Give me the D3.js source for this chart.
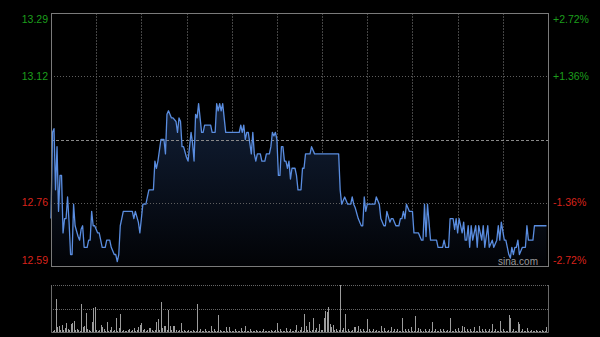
<!DOCTYPE html>
<html>
<head>
<meta charset="utf-8">
<script src="https://cdn.jsdelivr.net/npm/d3@7/dist/d3.min.js"></script>
<style>
  html, body { margin: 0; padding: 0; background: #000; }
  svg { display: block; }
  text { font-family: "Liberation Sans", Arial, sans-serif; }
</style>
</head>
<body>
<div id="chart"></div>
<script>
// intraday trade, minute index from the open (330 minutes, HK session)
const prevClose = 12.94;
const priceLabels = ["13.29", "13.12", "", "12.76", "12.59"];
const pctLabels = ["+2.72%", "+1.36%", "", "-1.36%", "-2.72%"];
const pctTicks = [2.72, 1.36, 0, -1.36, -2.72];

const minutes = [0,1,2,3,4,5,6,7,8,9,10,11,12,13,14,15,16,18,19,20,21,22,24,25,26,27,28,29,31,32,34,36,37,38,39,40,42,43,44,45,46,48,54,55,56,58,59,61,63,65,68,69,70,71,73,75,76,77,78,80,81,83,84,85,86,87,88,90,91,93,94,95,96,97,98,100,101,102,106,107,109,110,111,112,113,114,116,125,126,127,128,129,130,131,132,133,134,135,136,137,139,140,142,143,145,146,147,148,149,150,151,152,153,154,155,156,157,158,159,160,161,162,163,164,166,167,168,169,172,173,175,191,192,193,195,197,199,200,201,202,204,206,207,208,209,210,215,216,218,219,221,222,223,225,226,227,229,231,232,233,234,235,236,238,240,241,244,246,247,248,249,250,252,256,257,260,261,262,264,265,267,268,269,270,271,273,274,275,276,277,278,279,280,282,283,284,286,287,288,290,291,293,294,296,297,298,299,301,302,304,305,306,307,308,309,310,311,313,315,316,317,320,321,329];
const prices = [12.72,12.96,12.97,12.80,12.92,12.74,12.84,12.84,12.68,12.72,12.72,12.78,12.71,12.62,12.62,12.76,12.70,12.67,12.66,12.69,12.70,12.64,12.64,12.66,12.66,12.74,12.70,12.70,12.68,12.68,12.64,12.64,12.66,12.66,12.66,12.64,12.62,12.62,12.60,12.62,12.70,12.74,12.74,12.72,12.74,12.71,12.68,12.76,12.76,12.80,12.80,12.88,12.86,12.88,12.94,12.94,12.90,13.01,13.02,13.00,13.00,12.99,12.96,13.00,12.99,12.92,12.92,12.89,12.88,12.96,12.93,12.88,13.01,13.00,13.04,12.96,12.96,12.98,12.98,12.96,12.96,13.04,13.02,13.04,13.02,13.04,12.96,12.96,12.98,12.96,12.98,12.94,12.96,12.96,12.93,12.90,12.96,12.90,12.88,12.90,12.90,12.88,12.88,12.90,12.90,12.92,12.96,12.95,12.96,12.94,12.84,12.84,12.92,12.92,12.88,12.88,12.86,12.88,12.83,12.86,12.86,12.86,12.84,12.80,12.80,12.86,12.86,12.90,12.90,12.92,12.90,12.90,12.80,12.76,12.78,12.76,12.76,12.78,12.76,12.75,12.72,12.70,12.70,12.78,12.74,12.76,12.76,12.78,12.76,12.72,12.70,12.70,12.74,12.71,12.72,12.72,12.70,12.70,12.72,12.72,12.74,12.72,12.76,12.74,12.74,12.68,12.68,12.66,12.66,12.76,12.67,12.76,12.66,12.66,12.64,12.64,12.66,12.64,12.64,12.72,12.72,12.69,12.72,12.68,12.72,12.68,12.71,12.66,12.66,12.70,12.64,12.70,12.66,12.70,12.64,12.70,12.66,12.70,12.64,12.70,12.64,12.66,12.64,12.66,12.70,12.66,12.71,12.66,12.66,12.62,12.61,12.64,12.62,12.64,12.64,12.66,12.62,12.64,12.64,12.70,12.66,12.66,12.70,12.70];

// volume per minute (thousand shares), one row per half hour
const volume = [
  2,1,2,33,5,6,2,7,2,4,9,3,2,8,9,11,2,3,2,1,28,5,6,19,3,2,1,10,24,25,
  2,1,2,7,5,3,1,10,1,2,5,1,2,14,1,4,18,1,2,1,1,2,3,1,2,4,1,2,5,7,
  9,2,3,1,2,4,4,2,1,2,10,13,2,30,4,6,6,2,22,6,2,6,6,2,1,2,9,1,2,1,
  1,2,1,1,2,1,1,28,1,3,1,1,3,1,1,1,6,1,3,1,1,17,2,1,1,1,5,1,5,1,
  1,1,3,1,1,1,4,1,1,6,1,1,3,1,1,1,2,1,1,1,1,3,1,1,1,1,2,1,1,2,
  9,1,3,1,1,1,4,1,1,3,1,1,2,7,1,2,5,1,18,6,2,10,1,2,14,2,4,1,8,2,
  2,14,21,20,25,8,5,7,2,3,1,2,47,2,4,18,1,3,1,1,2,5,5,1,6,3,1,3,1,1,
  13,3,1,1,3,1,2,1,1,6,1,4,1,1,2,1,5,1,3,1,3,1,1,14,1,3,1,3,1,5,
  1,1,16,1,4,3,1,1,3,1,1,3,1,10,1,3,1,1,3,1,3,1,1,2,1,14,1,1,3,1,
  4,1,1,6,5,1,3,1,3,1,1,5,1,1,6,1,3,1,3,1,1,3,1,8,1,3,1,1,11,1,
  3,1,1,1,17,14,1,3,1,1,10,8,1,3,1,1,4,1,1,2,1,1,2,1,1,1,2,1,1,5
];

const totalMinutes = 330;
const gridSteps = 11;

// layout
const W = 600, H = 337;
const plot = {left: 51, right: 548, top: 13, bottom: 266};
const vol = {top: 285, bottom: 332};

const svg = d3.select("#chart").append("svg")
  .attr("width", W).attr("height", H)
  .style("background", "#000");

const x = d3.scaleLinear().domain([0, totalMinutes]).range([plot.left, plot.right]);
const y = d3.scaleLinear()
  .domain([prevClose * (1 - 0.0272), prevClose * (1 + 0.0272)])
  .range([plot.bottom, plot.top]);
const yVol = d3.scaleLinear().domain([0, d3.max(volume)]).range([vol.bottom, vol.top]);

const pts = minutes.map((m, i) => ({m: m, p: prices[i]}));

// gradient under the line
const defs = svg.append("defs");
const grad = defs.append("linearGradient")
  .attr("id", "areaFill")
  .attr("gradientUnits", "userSpaceOnUse")
  .attr("x1", 0).attr("x2", 0)
  .attr("y1", plot.top).attr("y2", plot.bottom);
grad.append("stop").attr("offset", 0).attr("stop-color", "#1a2f52");
grad.append("stop").attr("offset", 1).attr("stop-color", "#020306");

// vertical grid
const vTicks = d3.range(1, gridSteps).map(i => i * totalMinutes / gridSteps);
svg.append("g").selectAll("line")
  .data(vTicks).enter().append("line")
  .attr("x1", d => Math.round(x(d)) + 0.5).attr("x2", d => Math.round(x(d)) + 0.5)
  .attr("y1", plot.top).attr("y2", plot.bottom)
  .attr("stroke", "#444").attr("stroke-dasharray", "2,1");

// area + line
svg.append("path")
  .datum(pts)
  .attr("d", d3.area().x(d => x(d.m)).y0(plot.bottom).y1(d => y(d.p)))
  .attr("fill", "url(#areaFill)");

// horizontal grid
const tickPrices = pctTicks.map(p => prevClose * (1 + p / 100));
svg.append("g").selectAll("line")
  .data(tickPrices.slice(1, 4)).enter().append("line")
  .attr("x1", plot.left).attr("x2", plot.right)
  .attr("y1", d => Math.round(y(d)) + 0.5).attr("y2", d => Math.round(y(d)) + 0.5)
  .attr("stroke", (d, i) => i == 1 ? "#8a8a8a" : "#5e5e5e")
  .attr("stroke-dasharray", (d, i) => i == 1 ? "3,2" : "1,2");

svg.append("path")
  .datum(pts)
  .attr("d", d3.line().x(d => x(d.m)).y(d => y(d.p)))
  .attr("fill", "none")
  .attr("stroke", "#5a8de0")
  .attr("stroke-width", 1.3)
  .attr("stroke-linejoin", "round");

// frame
svg.append("rect")
  .attr("x", plot.left + 0.5).attr("y", plot.top + 0.5)
  .attr("width", plot.right - plot.left).attr("height", plot.bottom - plot.top)
  .attr("fill", "none").attr("stroke", "#7a7a7a");

// price labels (left) and percent labels (right)
function labelY(d, i) {
  if (i == 0) return y(d) + 6;
  if (i == 4) return y(d) - 6;
  return y(d);
}
svg.append("g").selectAll("text")
  .data(tickPrices).enter().append("text")
  .attr("x", 48).attr("y", labelY)
  .attr("dy", "0.35em")
  .attr("text-anchor", "end")
  .attr("font-size", "10.5px")
  .attr("fill", (d, i) => i < 2 ? "#1c9e1c" : "#d9231b")
  .text((d, i) => priceLabels[i]);

svg.append("g").selectAll("text")
  .data(tickPrices).enter().append("text")
  .attr("x", 553).attr("y", labelY)
  .attr("dy", "0.35em")
  .attr("font-size", "10.5px")
  .attr("fill", (d, i) => i < 2 ? "#1c9e1c" : "#d9231b")
  .text((d, i) => pctLabels[i]);

svg.append("text")
  .attr("x", 498).attr("y", 265)
  .attr("font-size", "10px")
  .attr("fill", "#9a9a9a")
  .text("sina.com");

// volume panel
svg.append("g").selectAll("line")
  .data([vol.top, (vol.top + vol.bottom) / 2]).enter().append("line")
  .attr("x1", plot.left).attr("x2", plot.right)
  .attr("y1", d => Math.round(d) + 0.5).attr("y2", d => Math.round(d) + 0.5)
  .attr("stroke", "#666").attr("stroke-dasharray", "1,1");

svg.append("g").selectAll("rect")
  .data(volume).enter().append("rect")
  .attr("x", (d, i) => Math.round(x(i)))
  .attr("y", d => yVol(d))
  .attr("width", 1)
  .attr("height", d => vol.bottom - yVol(d))
  .attr("fill", "#9c9c9c");

svg.append("path")
  .attr("d", "M" + (plot.left + 0.5) + "," + vol.top + "V" + (vol.bottom + 0.5) +
             "H" + (plot.right + 0.5) + "V" + vol.top)
  .attr("fill", "none").attr("stroke", "#6a6a6a");
</script>
</body>
</html>
